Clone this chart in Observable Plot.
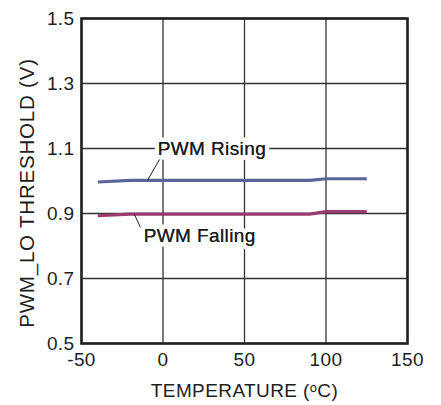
<!DOCTYPE html>
<html>
<head>
<meta charset="utf-8">
<script src="https://cdn.jsdelivr.net/npm/d3@7"></script>
<script src="https://cdn.jsdelivr.net/npm/@observablehq/plot@0.6"></script>
<style>
  html, body { margin: 0; padding: 0; background: #fff; }
  svg { display: block; }
  svg text { letter-spacing: 0.4px; }
  svg g.ytitle text { letter-spacing: 0.8px; }
</style>
</head>
<body>
<div id="chart"></div>
<script>
// Data
const temps = [-40, -20, 0, 25, 50, 75, 90, 100, 125];
const rising = [0.997, 1.002, 1.002, 1.002, 1.002, 1.002, 1.002, 1.007, 1.007];
const falling = [0.893, 0.898, 0.898, 0.898, 0.898, 0.898, 0.898, 0.906, 0.906];

const xTicks = [-50, 0, 50, 100, 150];
const yTicks = [0.5, 0.7, 0.9, 1.1, 1.3, 1.5];

const seriesNames = ["PWM Rising", "PWM Falling"];
const seriesColors = ["#5c6599", "#9b3a6e"];

// Annotation labels (data units)
const labelText = ["PWM Rising", "PWM Falling"];
const labelX = [30, 22.5];
const labelY = [1.1, 0.832];
// Leader lines (data units)
const leaderX1 = [-1.5, -17.5];
const leaderY1 = [1.072, 0.897];
const leaderX2 = [-9.5, -13.8];
const leaderY2 = [1.002, 0.857];

const xTitle = "TEMPERATURE (ᵒC)";
const yTitle = "PWM_LO THRESHOLD (V)";

const lineData = [];
temps.forEach((t, i) => {
  lineData.push({temp: t, v: rising[i], s: seriesNames[0]});
  lineData.push({temp: t, v: falling[i], s: seriesNames[1]});
});
const labels = labelText.map((t, i) => ({t, x: labelX[i], y: labelY[i]}));
const leaders = leaderX1.map((_, i) => ({x1: leaderX1[i], y1: leaderY1[i], x2: leaderX2[i], y2: leaderY2[i]}));

const font = "'Liberation Sans', Arial, Helvetica, sans-serif";
const ink = "#1e1e1e";
const fs = 19;

const chart = Plot.plot({
  width: 441,
  height: 405,
  marginLeft: 81,
  marginRight: 34,
  marginTop: 18,
  marginBottom: 62,
  style: {fontFamily: font, fontSize: fs + "px", color: ink, background: "#fff"},
  x: {domain: [-50, 150]},
  y: {domain: [0.5, 1.5]},
  color: {domain: seriesNames, range: seriesColors},
  marks: [
    Plot.gridX(xTicks, {stroke: "#333", strokeOpacity: 1, strokeWidth: 1.3}),
    Plot.gridY(yTicks, {stroke: "#333", strokeOpacity: 1, strokeWidth: 1.3}),
    Plot.axisX(xTicks, {tickSize: 0, tickPadding: 9, label: null, fontSize: fs, fill: ink, tickFormat: d => String(d)}),
    Plot.axisY(yTicks, {tickSize: 0, tickPadding: 7, label: null, tickFormat: d => d.toFixed(1), fontSize: fs, fill: ink}),
    Plot.line(lineData, {x: "temp", y: "v", z: "s", stroke: "s", strokeWidth: 3.2, strokeLinecap: "butt"}),
    Plot.link(leaders, {x1: "x1", y1: "y1", x2: "x2", y2: "y2", stroke: ink, strokeWidth: 1}),
    Plot.text(labels, {x: "x", y: "y", text: "t", fontSize: fs, fill: ink, stroke: "white", strokeWidth: 9, strokeLinejoin: "miter"}),
    Plot.text(labels, {x: "x", y: "y", text: "t", fontSize: fs, fill: ink}),
    Plot.frame({stroke: "#222", strokeWidth: 2.6}),
    Plot.text([xTitle], {frameAnchor: "bottom", lineAnchor: "middle", textAnchor: "middle", dy: 47, text: d => d, fontSize: fs, fill: ink, clip: false}),
    Plot.text([yTitle], {frameAnchor: "left", lineAnchor: "middle", textAnchor: "middle", dx: -54, dy: 12, rotate: -90, text: d => d, fontSize: 20.5, fill: ink, clip: false, className: "ytitle"})
  ]
});

document.getElementById("chart").appendChild(chart);
</script>
</body>
</html>
